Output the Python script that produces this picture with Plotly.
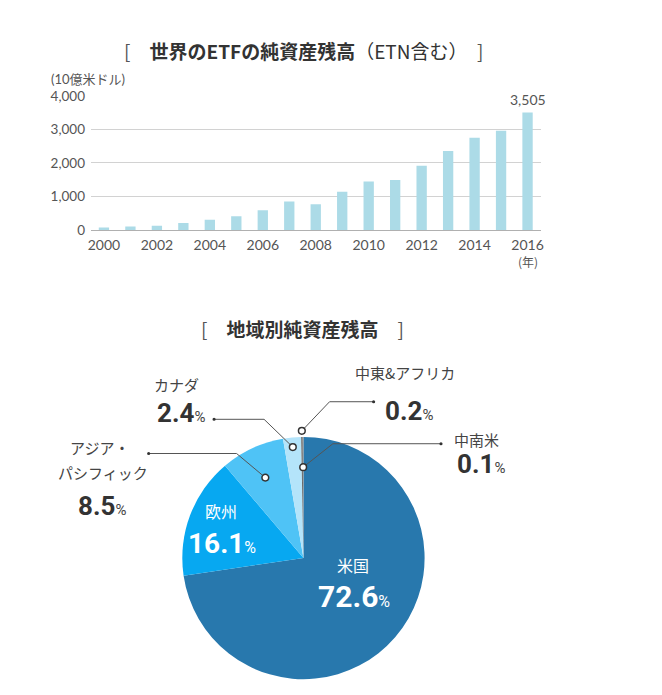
import math
import plotly.graph_objects as go

# ---------------- data ----------------
years = list(range(2000, 2017))
aum = [74, 105, 130, 210, 310, 415, 590, 850, 770, 1140, 1450, 1490, 1920, 2360, 2750, 2960, 3505]
y_ticks = [0, 1000, 2000, 3000, 4000]
x_ticks = list(range(2000, 2017, 2))

regions = ["米国", "欧州", "アジア・パシフィック", "カナダ", "中東&アフリカ", "中南米"]
shares = [72.6, 16.1, 8.5, 2.4, 0.2, 0.1]

# ---------------- styles ----------------
region_colors = ["#2878ad", "#07a8f1", "#4fc3f6", "#b4e4fa", "#666666", "#8c8c8c"]
bar_color = "#acdbe7"
W, H = 662, 695
JP = "'Noto Sans CJK JP', 'Noto Sans', sans-serif"
NUM = "Lato, 'Noto Sans CJK JP', sans-serif"
BIG = "Roboto, 'Noto Sans', sans-serif"


def px(x):
    return x / W


def py(y):
    return 1 - y / H


def note(x, y, text, font, xref="paper", yref="paper", **kw):
    d = dict(x=x, y=y, xref=xref, yref=yref, showarrow=False, text=text, font=font,
             xanchor="center", yanchor="middle")
    d.update(kw)
    return d


fig = go.Figure()

# ---------------- bar chart ----------------
fig.add_trace(go.Bar(
    x=years, y=aum, width=0.39, marker=dict(color=bar_color, line=dict(width=0)),
    xaxis="x", yaxis="y", hoverinfo="x+y", showlegend=False,
))

# ---------------- pie ----------------
CX, CY, R = 303.2, 563.0, 124.0
fig.add_trace(go.Pie(
    labels=regions, values=shares, sort=False, direction="clockwise", rotation=0,
    marker=dict(colors=region_colors, line=dict(width=0)),
    textinfo="none", showlegend=False,
    domain=dict(x=[px(CX - R), px(CX + R)], y=[py(CY + R), py(CY - R)]),
))

annotations = []
shapes = []

# titles
annotations.append(note(
    px(303), py(44),
    "<span style='color:#555'>[</span>　<b>世界のETFの純資産残高</b>（ETN含む）　<span style='color:#555'>]</span>",
    dict(family=JP, size=19, color="#333")))
annotations.append(note(
    px(302.5), py(328),
    "<span style='color:#555'>[</span>　<b>地域別純資産残高</b>　<span style='color:#555'>]</span>",
    dict(family=JP, size=19, color="#333")))
# unit label
annotations.append(note(px(46), py(72.7), "(10億米ドル)",
                        dict(family=NUM, size=13, color="#555"), xanchor="left"))
# (年)
annotations.append(note(years[-1], py(249), "(年)", dict(family=JP, size=12, color="#555"),
                        xref="x", yanchor="top"))
# last value label
annotations.append(note(years[-1], aum[-1], f"{aum[-1]:,}", dict(family=NUM, size=14, color="#555"),
                        xref="x", yref="y", yanchor="bottom", yshift=3))

# ---------------- pie labels ----------------
total = sum(shares)
cum = [sum(shares[:i]) for i in range(len(shares))]


def slice_point(i, rfrac):
    th = (cum[i] + shares[i] / 2) / total * 2 * math.pi
    return CX + rfrac * R * math.sin(th), CY - rfrac * R * math.cos(th)


def pct(i, pct_size=15, color="#333"):
    return f"<b>{shares[i]:.1f}</b><span style='font-size:{pct_size}px;color:{color}'>%</span>"


# inside labels (white)
inside = [(0, 353, 570, 602, 30), (1, 220, 515, 548, 28)]
for i, x, yl, yn, sz in inside:
    annotations.append(note(px(x), py(yl), regions[i], dict(family=JP, size=16, color="white")))
    annotations.append(note(px(x + 1), py(yn), pct(i, 16, "white"), dict(family=BIG, size=sz, color="white")))

# outside labels: (index, label lines with (x, y), number center (x, y))
outside = [
    (2, [("アジア・", 97, 450), ("パシフィック", 101, 475)], (100, 510)),
    (3, [("カナダ", 175, 385)], (180, 415)),
    (4, [("中東&アフリカ", 406, 373)], (410, 412)),
    (5, [("中南米", 478, 442)], (482, 467)),
]
for i, lines, (nx, ny) in outside:
    for t, x, y in lines:
        annotations.append(note(px(x), py(y), t, dict(family=JP, size=15, color="#444")))
    annotations.append(note(px(nx), py(ny), pct(i, 15, "#444"), dict(family=BIG, size=26, color="#333")))

# leader lines: (index, radius fraction, elbow dx, elbow y, end x)
leaders = [
    (2, 0.733, -29, 456, 147),
    (3, 0.92, -29, 421, 213),
    (4, 1.05, 28, 403, 374),
    (5, 0.75, 30, 446, 442),
]
for i, rf, edx, ey, ex in leaders:
    cx, cy = slice_point(i, rf)
    path = f"M {px(cx)} {py(cy)} L {px(cx + edx)} {py(ey)} L {px(ex)} {py(ey)}"
    shapes.append(dict(type="path", path=path, xref="paper", yref="paper",
                       line=dict(color="#555", width=1), layer="above"))
    rr = 3.4
    shapes.append(dict(type="circle", xref="paper", yref="paper",
                       x0=px(cx - rr), x1=px(cx + rr), y0=py(cy + rr), y1=py(cy - rr),
                       fillcolor="white", line=dict(color="#333", width=1.5), layer="above"))
    rd = 1.6
    shapes.append(dict(type="circle", xref="paper", yref="paper",
                       x0=px(ex - rd), x1=px(ex + rd), y0=py(ey + rd), y1=py(ey - rd),
                       fillcolor="#333", line=dict(width=0), layer="above"))

fig.update_layout(
    width=W, height=H, margin=dict(l=0, r=0, t=0, b=0),
    paper_bgcolor="white", plot_bgcolor="white", showlegend=False,
    annotations=annotations, shapes=shapes,
    xaxis=dict(
        domain=[px(88.5), px(542.7)], range=[1999.5, 2016.5],
        tickvals=x_ticks, ticktext=[str(v) for v in x_ticks],
        showgrid=False, zeroline=False, showline=True, linecolor="#b0b0b0", linewidth=1,
        ticks="outside", ticklen=2, tickcolor="rgba(0,0,0,0)",
        tickfont=dict(family=NUM, size=14, color="#555"), fixedrange=True,
    ),
    yaxis=dict(
        domain=[py(227.3), py(90)], range=[0, 4000],
        tickvals=y_ticks, tickformat=",",
        showgrid=True, gridcolor="#d2d2d2", gridwidth=1, zeroline=False, showline=False,
        ticks="outside", ticklen=2, tickcolor="rgba(0,0,0,0)",
        tickfont=dict(family=NUM, size=13.5, color="#555"), fixedrange=True,
    ),
)

fig.write_html("out.html")
